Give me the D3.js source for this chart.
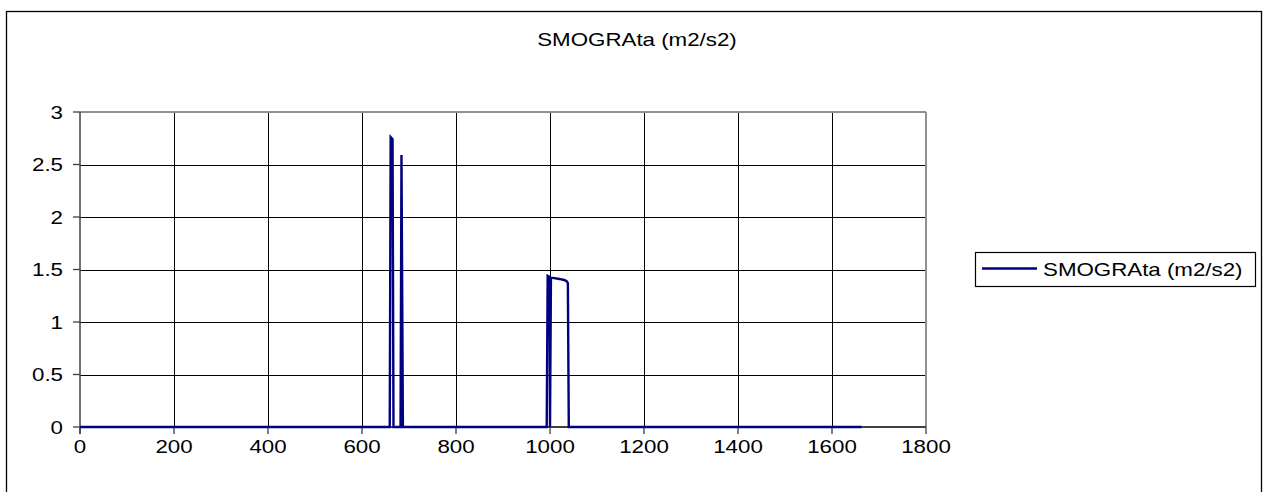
<!DOCTYPE html>
<html>
<head>
<meta charset="utf-8">
<script src="https://cdn.jsdelivr.net/npm/d3@7"></script>
<style>
  html, body { margin: 0; padding: 0; background: #fff; }
  svg { display: block; }
  text { font-family: "Liberation Sans", Arial, sans-serif; fill: #000; }
</style>
</head>
<body>
<svg id="chart" width="1264" height="492"></svg>
<script>
// ---- data ----
const chartTitle = "SMOGRAta (m2/s2)";
const seriesName = "SMOGRAta (m2/s2)";
const xValues = [0, 659, 661, 665, 667, 682, 684, 687, 993, 995, 999, 1000, 1002, 1006, 1020, 1030, 1035, 1038, 1040, 1663];
const yValues = [0, 0, 2.76, 2.74, 0, 0, 2.59, 0, 0, 1.44, 1.43, 0, 1.42, 1.42, 1.41, 1.40, 1.39, 1.37, 0, 0];
const xTicks = [0, 200, 400, 600, 800, 1000, 1200, 1400, 1600, 1800];
const yTicks = [0, 0.5, 1, 1.5, 2, 2.5, 3];

// ---- layout ----
const svg = d3.select("#chart");
const x = d3.scaleLinear().domain([0, 1800]).range([80, 926]);
const y = d3.scaleLinear().domain([0, 3]).range([427, 112]);
const SX = 1.2; // horizontal stretch of the original text rendering
const FS = 18.6;
const px = v => Math.round(v) + 0.5;

function stretchedText(g, tx, ty, str, anchor, size) {
  return g.append("text")
    .attr("transform", `translate(${tx},${ty}) scale(${SX},1)`)
    .attr("text-anchor", anchor)
    .style("font-size", (size || FS) + "px")
    .text(str);
}

// outer frame
svg.append("rect")
  .attr("x", 6.5).attr("y", 11.5)
  .attr("width", 1255).attr("height", 520)
  .attr("fill", "#fff").attr("stroke", "#000").attr("stroke-width", 1.3);

// title
stretchedText(svg, 637, 46, chartTitle, "middle");

// gridlines
const grid = svg.append("g").attr("shape-rendering", "crispEdges");
grid.selectAll("line.h").data(yTicks.filter(d => d > 0 && d < 3)).join("line")
  .attr("x1", x(0)).attr("x2", x(1800))
  .attr("y1", d => px(y(d))).attr("y2", d => px(y(d)))
  .attr("stroke", "#000").attr("stroke-width", 1);
grid.selectAll("line.v").data(xTicks.filter(d => d > 0 && d < 1800)).join("line")
  .attr("x1", d => px(x(d))).attr("x2", d => px(x(d)))
  .attr("y1", y(0)).attr("y2", y(3))
  .attr("stroke", "#000").attr("stroke-width", 1);

// plot border (top/right gray)
svg.append("line").attr("x1", x(0)).attr("x2", x(1800)).attr("y1", y(3)).attr("y2", y(3))
  .attr("stroke", "#909090").attr("stroke-width", 2);
svg.append("line").attr("x1", x(1800)).attr("x2", x(1800)).attr("y1", y(3)).attr("y2", y(0))
  .attr("stroke", "#909090").attr("stroke-width", 2);

// axes
const axisColor = "#404040";
svg.append("line").attr("x1", x(0)).attr("x2", x(0)).attr("y1", y(3)).attr("y2", y(0) + 7)
  .attr("stroke", axisColor).attr("stroke-width", 1.5);
svg.append("line").attr("x1", x(0)).attr("x2", x(1800)).attr("y1", y(0)).attr("y2", y(0))
  .attr("stroke", axisColor).attr("stroke-width", 2);

// y ticks
svg.selectAll("line.yt").data(yTicks).join("line")
  .attr("x1", x(0) - 7).attr("x2", x(0))
  .attr("y1", d => y(d)).attr("y2", d => y(d))
  .attr("stroke", axisColor).attr("stroke-width", 1.3);
// x ticks
svg.selectAll("line.xt").data(xTicks).join("line")
  .attr("x1", d => x(d)).attr("x2", d => x(d))
  .attr("y1", y(0)).attr("y2", y(0) + 7)
  .attr("stroke", axisColor).attr("stroke-width", 1.3);

// tick labels
const yl = svg.append("g");
yTicks.forEach(d => stretchedText(yl, 63, y(d) + 6.7, d3.format("")(d), "end"));
const xl = svg.append("g");
xTicks.forEach(d => stretchedText(xl, x(d), 453, String(d), "middle"));

// series
const pts = xValues.map((v, i) => [v, yValues[i]]);
const line = d3.line().x(d => x(d[0])).y(d => y(d[1]));
svg.append("path")
  .datum(pts)
  .attr("d", line)
  .attr("fill", "none")
  .attr("stroke", "#000080")
  .attr("stroke-width", 2.4)
  .attr("stroke-linejoin", "miter");

// legend
const lg = svg.append("g");
lg.append("rect").attr("x", 975.5).attr("y", 252.5).attr("width", 280).attr("height", 34)
  .attr("fill", "#fff").attr("stroke", "#000").attr("stroke-width", 1.2);
lg.append("line").attr("x1", 982).attr("x2", 1037).attr("y1", 268.5).attr("y2", 268.5)
  .attr("stroke", "#000080").attr("stroke-width", 2.4);
stretchedText(lg, 1043, 276, seriesName, "start");
</script>
</body>
</html>
